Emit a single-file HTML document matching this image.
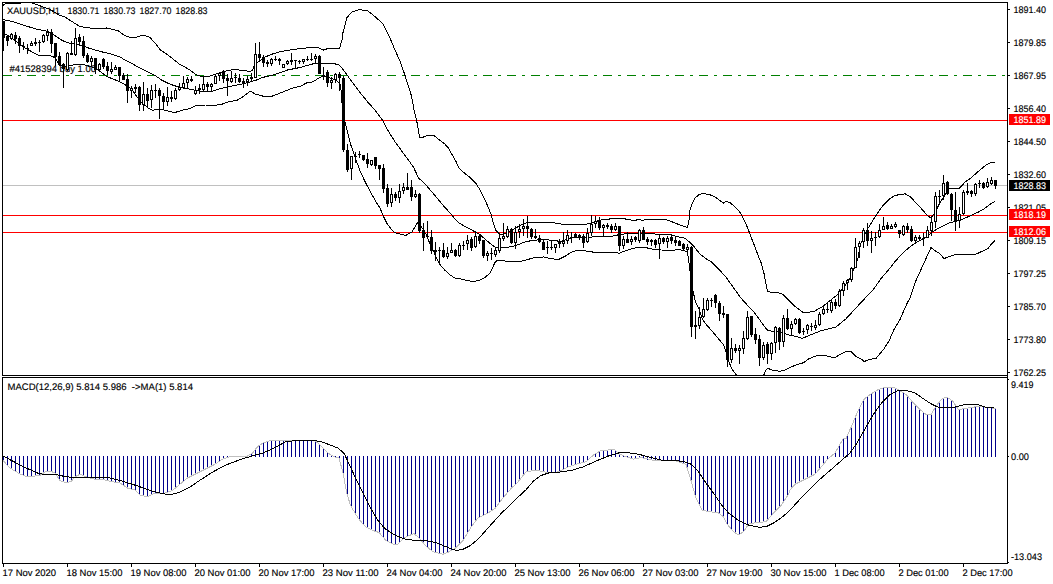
<!DOCTYPE html><html><head><meta charset="utf-8"><title>XAUUSD,H1</title><style>html,body{margin:0;padding:0;background:#fff;overflow:hidden}svg text{text-rendering:geometricPrecision}</style></head><body><svg width="1053" height="584" viewBox="0 0 1053 584" font-family="Liberation Sans, sans-serif" shape-rendering="crispEdges" style="display:block">
<rect width="1053" height="584" fill="#fff"/>
<defs><clipPath id="cm"><rect x="3" y="3" width="1004" height="372"/></clipPath><clipPath id="cs"><rect x="3" y="378" width="1004" height="185"/></clipPath></defs>
<g clip-path="url(#cm)">
<rect x="3" y="185" width="1004" height="1" fill="#c0c0c0"/>
<rect x="3" y="75" width="9" height="1" fill="#008000"/>
<rect x="18" y="75" width="3" height="1" fill="#008000"/>
<rect x="27" y="75" width="9" height="1" fill="#008000"/>
<rect x="42" y="75" width="3" height="1" fill="#008000"/>
<rect x="51" y="75" width="9" height="1" fill="#008000"/>
<rect x="66" y="75" width="3" height="1" fill="#008000"/>
<rect x="75" y="75" width="9" height="1" fill="#008000"/>
<rect x="90" y="75" width="3" height="1" fill="#008000"/>
<rect x="99" y="75" width="9" height="1" fill="#008000"/>
<rect x="114" y="75" width="3" height="1" fill="#008000"/>
<rect x="123" y="75" width="9" height="1" fill="#008000"/>
<rect x="138" y="75" width="3" height="1" fill="#008000"/>
<rect x="147" y="75" width="9" height="1" fill="#008000"/>
<rect x="162" y="75" width="3" height="1" fill="#008000"/>
<rect x="171" y="75" width="9" height="1" fill="#008000"/>
<rect x="186" y="75" width="3" height="1" fill="#008000"/>
<rect x="195" y="75" width="9" height="1" fill="#008000"/>
<rect x="210" y="75" width="3" height="1" fill="#008000"/>
<rect x="219" y="75" width="9" height="1" fill="#008000"/>
<rect x="234" y="75" width="3" height="1" fill="#008000"/>
<rect x="243" y="75" width="9" height="1" fill="#008000"/>
<rect x="258" y="75" width="3" height="1" fill="#008000"/>
<rect x="267" y="75" width="9" height="1" fill="#008000"/>
<rect x="282" y="75" width="3" height="1" fill="#008000"/>
<rect x="291" y="75" width="9" height="1" fill="#008000"/>
<rect x="306" y="75" width="3" height="1" fill="#008000"/>
<rect x="315" y="75" width="9" height="1" fill="#008000"/>
<rect x="330" y="75" width="3" height="1" fill="#008000"/>
<rect x="339" y="75" width="9" height="1" fill="#008000"/>
<rect x="354" y="75" width="3" height="1" fill="#008000"/>
<rect x="363" y="75" width="9" height="1" fill="#008000"/>
<rect x="378" y="75" width="3" height="1" fill="#008000"/>
<rect x="387" y="75" width="9" height="1" fill="#008000"/>
<rect x="402" y="75" width="3" height="1" fill="#008000"/>
<rect x="411" y="75" width="9" height="1" fill="#008000"/>
<rect x="426" y="75" width="3" height="1" fill="#008000"/>
<rect x="435" y="75" width="9" height="1" fill="#008000"/>
<rect x="450" y="75" width="3" height="1" fill="#008000"/>
<rect x="459" y="75" width="9" height="1" fill="#008000"/>
<rect x="474" y="75" width="3" height="1" fill="#008000"/>
<rect x="483" y="75" width="9" height="1" fill="#008000"/>
<rect x="498" y="75" width="3" height="1" fill="#008000"/>
<rect x="507" y="75" width="9" height="1" fill="#008000"/>
<rect x="522" y="75" width="3" height="1" fill="#008000"/>
<rect x="531" y="75" width="9" height="1" fill="#008000"/>
<rect x="546" y="75" width="3" height="1" fill="#008000"/>
<rect x="555" y="75" width="9" height="1" fill="#008000"/>
<rect x="570" y="75" width="3" height="1" fill="#008000"/>
<rect x="579" y="75" width="9" height="1" fill="#008000"/>
<rect x="594" y="75" width="3" height="1" fill="#008000"/>
<rect x="603" y="75" width="9" height="1" fill="#008000"/>
<rect x="618" y="75" width="3" height="1" fill="#008000"/>
<rect x="627" y="75" width="9" height="1" fill="#008000"/>
<rect x="642" y="75" width="3" height="1" fill="#008000"/>
<rect x="651" y="75" width="9" height="1" fill="#008000"/>
<rect x="666" y="75" width="3" height="1" fill="#008000"/>
<rect x="675" y="75" width="9" height="1" fill="#008000"/>
<rect x="690" y="75" width="3" height="1" fill="#008000"/>
<rect x="699" y="75" width="9" height="1" fill="#008000"/>
<rect x="714" y="75" width="3" height="1" fill="#008000"/>
<rect x="723" y="75" width="9" height="1" fill="#008000"/>
<rect x="738" y="75" width="3" height="1" fill="#008000"/>
<rect x="747" y="75" width="9" height="1" fill="#008000"/>
<rect x="762" y="75" width="3" height="1" fill="#008000"/>
<rect x="771" y="75" width="9" height="1" fill="#008000"/>
<rect x="786" y="75" width="3" height="1" fill="#008000"/>
<rect x="795" y="75" width="9" height="1" fill="#008000"/>
<rect x="810" y="75" width="3" height="1" fill="#008000"/>
<rect x="819" y="75" width="9" height="1" fill="#008000"/>
<rect x="834" y="75" width="3" height="1" fill="#008000"/>
<rect x="843" y="75" width="9" height="1" fill="#008000"/>
<rect x="858" y="75" width="3" height="1" fill="#008000"/>
<rect x="867" y="75" width="9" height="1" fill="#008000"/>
<rect x="882" y="75" width="3" height="1" fill="#008000"/>
<rect x="891" y="75" width="9" height="1" fill="#008000"/>
<rect x="906" y="75" width="3" height="1" fill="#008000"/>
<rect x="915" y="75" width="9" height="1" fill="#008000"/>
<rect x="930" y="75" width="3" height="1" fill="#008000"/>
<rect x="939" y="75" width="9" height="1" fill="#008000"/>
<rect x="954" y="75" width="3" height="1" fill="#008000"/>
<rect x="963" y="75" width="9" height="1" fill="#008000"/>
<rect x="978" y="75" width="3" height="1" fill="#008000"/>
<rect x="987" y="75" width="9" height="1" fill="#008000"/>
<rect x="1002" y="75" width="3" height="1" fill="#008000"/>
<rect x="3" y="120" width="1004" height="1" fill="#ff0000"/>
<rect x="3" y="215" width="1004" height="1" fill="#ff0000"/>
<rect x="3" y="232" width="1004" height="1" fill="#ff0000"/>
<polyline points="2.5,6.5 4.0,4.5 6.0,3.5 8.0,3.5 20.0,3.5 22.0,2.5 31.0,2.5 33.0,3.5 36.0,4.2 40.0,5.8 50.0,9.5 59.0,15.0 65.0,17.0 72.7,22.0 80.0,26.5 90.0,28.0 103.0,29.0 106.5,28.0 118.0,30.7 125.0,35.7 131.6,38.0 135.0,37.5 140.0,36.0 145.0,35.5 150.0,37.5 155.0,43.0 160.4,50.0 168.0,55.0 179.0,63.8 189.0,69.4 195.5,74.4 199.0,75.7 204.0,77.0 209.0,76.3 216.8,73.8 224.3,71.3 234.3,69.4 241.8,70.3 250.6,71.6 253.0,69.4 255.0,63.8 257.0,63.0 260.0,60.6 265.0,57.0 272.5,54.0 281.0,51.5 294.0,49.4 306.0,48.0 314.0,47.0 317.5,47.5 323.5,50.0 326.5,49.0 333.8,48.5 339.5,49.0 340.7,43.8 342.0,40.0 343.0,32.5 347.0,17.5 352.0,12.0 359.0,9.5 368.0,11.0 375.5,17.0 383.0,24.0 390.0,38.0 395.0,50.0 400.0,61.0 404.0,72.5 407.8,84.0 411.6,96.4 414.0,110.0 416.6,120.0 418.5,131.3 419.5,137.0 423.5,137.0 427.3,135.4 433.5,135.4 436.0,137.0 439.8,140.3 444.8,144.0 448.6,148.2 452.3,155.0 456.0,161.4 458.7,167.5 463.7,172.5 470.0,177.5 476.3,183.8 480.0,190.0 483.8,197.6 487.6,205.8 491.3,215.0 493.5,223.8 496.0,230.7 498.5,233.2 499.7,234.4 503.5,234.0 512.3,230.0 519.8,225.7 524.8,223.2 529.8,222.2 534.9,222.9 539.9,222.5 543.6,222.3 552.3,222.6 561.0,224.0 573.6,224.4 586.0,224.4 590.0,223.2 601.0,220.0 607.5,219.4 613.7,218.2 623.8,218.6 628.8,219.8 635.0,220.4 638.8,219.4 642.6,220.3 646.3,219.4 655.0,219.0 660.0,219.5 666.3,219.8 672.5,222.0 678.8,224.5 685.0,226.7 687.3,227.6 688.8,222.6 690.0,210.0 692.0,203.8 695.0,198.0 698.9,194.8 703.2,193.4 710.0,194.8 715.0,196.9 720.0,200.7 723.3,203.2 726.4,201.3 730.2,202.9 735.2,207.0 740.2,212.6 744.0,220.0 747.8,228.2 751.5,238.3 755.3,247.7 757.9,255.0 761.0,262.5 764.1,273.8 766.0,283.8 767.5,291.4 771.0,292.4 777.3,292.4 782.3,294.0 788.6,300.0 794.9,306.4 803.5,312.6 808.5,312.3 814.8,311.0 821.0,307.5 823.6,305.7 838.6,293.8 843.0,288.0 847.0,283.0 851.0,276.0 855.0,266.0 858.0,258.0 860.0,246.0 863.0,238.0 866.0,232.0 868.0,228.3 871.2,223.3 875.0,217.0 882.5,206.0 890.0,198.5 895.0,195.5 900.0,194.5 905.0,193.8 910.0,196.4 916.3,203.2 922.6,210.0 927.0,215.2 930.7,218.0 934.0,214.0 937.6,207.4 940.0,202.6 943.2,197.6 949.5,188.6 959.0,188.6 965.2,182.0 971.5,177.5 977.7,172.0 985.2,165.6 990.3,163.0 995.0,162.5" fill="none" stroke="#000" stroke-width="1" />
<polyline points="2.5,19.4 12.5,21.5 25.0,25.7 37.6,29.4 47.6,31.3 54.0,35.0 62.7,40.7 71.5,43.8 79.0,44.5 87.8,47.8 100.0,51.4 112.8,54.5 120.0,57.0 125.0,60.0 131.6,63.3 136.5,66.3 149.0,72.6 155.3,75.7 161.6,80.0 169.0,83.8 176.6,86.4 184.0,88.2 191.7,89.5 199.0,91.0 211.8,91.4 219.3,88.9 226.8,87.0 236.8,85.0 244.3,83.6 252.0,81.3 256.5,80.0 262.5,77.5 275.0,74.5 287.5,70.0 300.0,67.5 312.5,64.0 316.0,63.8 320.6,63.0 333.8,63.5 338.8,65.0 342.5,68.8 347.5,75.6 352.5,82.5 360.0,92.5 367.7,102.0 375.0,110.0 382.0,119.4 388.4,131.3 394.7,141.3 401.0,150.0 407.2,158.3 413.6,167.5 418.6,178.0 426.0,185.0 432.4,192.6 438.7,200.0 445.0,207.6 451.2,214.0 454.3,218.3 458.7,222.7 463.7,225.8 468.4,228.2 474.7,231.6 479.7,234.4 484.7,238.8 489.7,243.2 494.7,247.0 499.7,247.6 507.3,247.4 512.3,246.4 518.5,244.5 524.8,242.0 531.0,240.7 537.4,240.0 543.6,239.8 548.5,240.0 561.0,241.4 568.6,238.9 573.6,237.0 583.6,237.0 592.4,237.0 596.0,236.4 611.2,236.4 617.5,235.0 623.8,234.0 636.3,233.6 648.8,233.6 655.0,234.0 660.0,234.5 670.0,234.5 678.8,237.0 685.0,238.3 688.8,241.4 693.8,246.4 700.0,254.0 706.4,259.0 710.9,261.3 718.4,268.8 725.9,277.0 733.4,287.6 741.0,298.2 747.2,305.0 753.5,311.3 759.8,320.0 764.8,327.0 767.3,330.0 772.3,331.3 777.3,331.6 782.3,332.6 787.3,334.5 792.3,335.7 796.0,336.4 802.3,338.3 808.5,335.8 821.0,330.7 836.0,327.0 846.0,318.8 858.7,305.0 866.2,297.0 873.0,290.0 881.2,278.4 888.8,269.6 895.0,261.5 902.6,253.4 908.8,247.7 915.0,243.3 921.4,239.6 927.6,236.0 932.0,232.0 937.6,228.7 943.9,225.4 950.0,222.7 955.0,221.4 960.0,220.4 965.2,218.0 971.5,215.2 977.7,212.4 984.0,209.0 987.8,206.0 991.5,203.2 995.0,201.5" fill="none" stroke="#000" stroke-width="1" />
<polyline points="2.5,31.0 5.0,33.8 16.0,41.0 25.0,48.0 37.6,55.0 50.0,55.7 55.0,57.6 59.0,64.0 62.7,66.4 70.0,65.8 77.7,64.0 85.0,65.0 94.0,67.6 100.0,71.4 106.5,76.4 119.0,81.4 125.0,84.6 131.6,89.0 136.5,96.4 142.0,103.0 147.8,107.7 152.8,110.4 157.8,109.0 164.0,110.0 171.6,112.0 176.6,112.0 183.0,110.0 189.0,108.7 196.7,105.4 205.5,105.0 216.8,105.0 224.3,103.7 226.0,102.5 237.5,100.0 244.0,96.0 250.0,91.5 251.5,91.5 255.0,94.0 262.5,96.0 272.5,96.0 281.5,92.5 294.0,87.5 300.0,86.5 306.5,83.0 312.5,82.0 319.0,78.0 323.5,76.0 330.0,78.0 336.0,80.0 340.0,84.0 341.0,90.0 341.5,99.0 343.0,110.0 345.0,122.5 348.3,135.0 350.8,145.0 354.0,154.0 357.0,162.6 360.8,172.7 365.2,182.0 370.0,191.0 376.0,202.0 379.8,207.6 383.5,216.4 387.3,224.0 391.0,229.0 394.8,232.7 398.0,233.5 405.5,235.5 412.0,232.0 417.6,222.5 419.0,222.0 421.0,226.0 426.4,235.0 428.3,240.0 432.0,247.6 435.8,256.4 439.6,264.0 444.6,270.0 449.6,274.5 455.2,278.3 462.0,279.2 468.4,280.8 473.4,281.5 479.7,280.2 484.7,277.7 489.7,273.3 492.9,267.7 494.7,262.6 497.2,260.4 503.5,260.4 508.5,262.0 514.8,261.6 519.8,261.6 526.0,260.0 531.0,258.6 534.9,257.4 543.6,257.0 546.0,257.7 551.0,258.7 558.6,259.5 564.8,256.4 572.4,251.6 578.6,250.0 586.0,251.0 595.0,252.4 606.2,252.4 616.2,252.6 619.4,253.3 623.8,251.4 631.3,249.0 637.5,247.4 645.0,247.4 653.8,249.5 661.4,250.0 671.3,250.4 678.8,249.5 687.0,251.4 688.2,256.4 689.0,262.5 690.5,275.0 693.3,292.6 695.8,303.0 699.0,309.0 702.0,318.3 705.2,323.3 709.6,328.3 717.0,337.0 723.4,344.5 725.3,350.0 727.5,357.0 729.7,364.0 732.8,370.2 736.0,374.6 740.0,379.0 750.0,383.0 760.0,380.0 764.0,374.6 766.0,370.2 767.9,368.3 772.3,370.2 779.8,371.2 784.8,370.2 791.0,367.0 797.4,364.5 803.5,362.7 808.5,359.0 817.3,355.4 824.8,355.4 831.0,357.0 836.0,357.0 839.9,354.6 846.0,351.4 851.2,351.4 855.0,355.8 861.2,359.0 864.3,361.5 868.7,359.6 876.2,358.3 883.8,349.0 888.8,341.4 893.8,330.0 900.0,319.5 906.3,305.0 910.0,297.7 915.0,282.7 921.3,268.9 927.0,256.3 931.0,247.6 935.0,250.7 940.0,253.8 943.9,258.6 950.0,256.3 955.0,254.5 965.2,254.5 975.2,254.5 981.5,251.6 987.8,248.8 991.5,243.8 995.0,240.5" fill="none" stroke="#000" stroke-width="1" />
<rect x="3" y="21" width="1" height="30" fill="#000"/>
<rect x="2" y="21" width="3" height="17" fill="#000"/>
<rect x="7" y="36" width="1" height="10" fill="#000"/>
<rect x="6" y="36" width="3" height="5" fill="#000"/>
<rect x="11" y="33" width="1" height="7" fill="#000"/>
<rect x="10" y="34" width="3" height="5" fill="#000"/>
<rect x="11" y="35" width="1" height="3" fill="#fff"/>
<rect x="15" y="32" width="1" height="12" fill="#000"/>
<rect x="14" y="35" width="3" height="4" fill="#000"/>
<rect x="19" y="36" width="1" height="17" fill="#000"/>
<rect x="18" y="38" width="3" height="8" fill="#000"/>
<rect x="23" y="42" width="1" height="8" fill="#000"/>
<rect x="22" y="46" width="3" height="1" fill="#000"/>
<rect x="27" y="44" width="1" height="10" fill="#000"/>
<rect x="26" y="48" width="3" height="1" fill="#000"/>
<rect x="31" y="41" width="1" height="5" fill="#000"/>
<rect x="30" y="43" width="3" height="3" fill="#000"/>
<rect x="31" y="44" width="1" height="1" fill="#fff"/>
<rect x="35" y="38" width="1" height="8" fill="#000"/>
<rect x="34" y="42" width="3" height="2" fill="#000"/>
<rect x="39" y="40" width="1" height="12" fill="#000"/>
<rect x="38" y="42" width="3" height="1" fill="#000"/>
<rect x="43" y="34" width="1" height="9" fill="#000"/>
<rect x="42" y="35" width="3" height="7" fill="#000"/>
<rect x="43" y="36" width="1" height="5" fill="#fff"/>
<rect x="47" y="29" width="1" height="12" fill="#000"/>
<rect x="46" y="32" width="3" height="4" fill="#000"/>
<rect x="47" y="33" width="1" height="2" fill="#fff"/>
<rect x="51" y="29" width="1" height="24" fill="#000"/>
<rect x="50" y="32" width="3" height="12" fill="#000"/>
<rect x="55" y="43" width="1" height="23" fill="#000"/>
<rect x="54" y="43" width="3" height="14" fill="#000"/>
<rect x="59" y="52" width="1" height="14" fill="#000"/>
<rect x="58" y="56" width="3" height="9" fill="#000"/>
<rect x="63" y="63" width="1" height="25" fill="#000"/>
<rect x="62" y="64" width="3" height="5" fill="#000"/>
<rect x="67" y="52" width="1" height="19" fill="#000"/>
<rect x="66" y="53" width="3" height="17" fill="#000"/>
<rect x="67" y="54" width="1" height="15" fill="#fff"/>
<rect x="71" y="41" width="1" height="14" fill="#000"/>
<rect x="70" y="53" width="3" height="2" fill="#000"/>
<rect x="75" y="28" width="1" height="28" fill="#000"/>
<rect x="74" y="38" width="3" height="17" fill="#000"/>
<rect x="75" y="39" width="1" height="15" fill="#fff"/>
<rect x="79" y="34" width="1" height="12" fill="#000"/>
<rect x="78" y="37" width="3" height="5" fill="#000"/>
<rect x="83" y="36" width="1" height="22" fill="#000"/>
<rect x="82" y="41" width="3" height="15" fill="#000"/>
<rect x="87" y="53" width="1" height="10" fill="#000"/>
<rect x="86" y="55" width="3" height="7" fill="#000"/>
<rect x="91" y="56" width="1" height="10" fill="#000"/>
<rect x="90" y="58" width="3" height="4" fill="#000"/>
<rect x="91" y="59" width="1" height="2" fill="#fff"/>
<rect x="95" y="58" width="1" height="16" fill="#000"/>
<rect x="94" y="58" width="3" height="12" fill="#000"/>
<rect x="99" y="63" width="1" height="9" fill="#000"/>
<rect x="98" y="64" width="3" height="6" fill="#000"/>
<rect x="99" y="65" width="1" height="4" fill="#fff"/>
<rect x="103" y="58" width="1" height="11" fill="#000"/>
<rect x="102" y="59" width="3" height="8" fill="#000"/>
<rect x="107" y="62" width="1" height="13" fill="#000"/>
<rect x="106" y="66" width="3" height="5" fill="#000"/>
<rect x="111" y="62" width="1" height="12" fill="#000"/>
<rect x="110" y="69" width="3" height="3" fill="#000"/>
<rect x="111" y="70" width="1" height="1" fill="#fff"/>
<rect x="115" y="65" width="1" height="5" fill="#000"/>
<rect x="114" y="67" width="3" height="3" fill="#000"/>
<rect x="115" y="68" width="1" height="1" fill="#fff"/>
<rect x="119" y="67" width="1" height="14" fill="#000"/>
<rect x="118" y="67" width="3" height="9" fill="#000"/>
<rect x="123" y="73" width="1" height="7" fill="#000"/>
<rect x="122" y="75" width="3" height="5" fill="#000"/>
<rect x="127" y="74" width="1" height="29" fill="#000"/>
<rect x="126" y="79" width="3" height="12" fill="#000"/>
<rect x="131" y="86" width="1" height="12" fill="#000"/>
<rect x="130" y="88" width="3" height="3" fill="#000"/>
<rect x="131" y="89" width="1" height="1" fill="#fff"/>
<rect x="135" y="84" width="1" height="9" fill="#000"/>
<rect x="134" y="87" width="3" height="2" fill="#000"/>
<rect x="139" y="86" width="1" height="25" fill="#000"/>
<rect x="138" y="87" width="3" height="18" fill="#000"/>
<rect x="143" y="82" width="1" height="29" fill="#000"/>
<rect x="142" y="94" width="3" height="11" fill="#000"/>
<rect x="143" y="95" width="1" height="9" fill="#fff"/>
<rect x="147" y="88" width="1" height="20" fill="#000"/>
<rect x="146" y="94" width="3" height="7" fill="#000"/>
<rect x="151" y="85" width="1" height="23" fill="#000"/>
<rect x="150" y="90" width="3" height="10" fill="#000"/>
<rect x="151" y="91" width="1" height="8" fill="#fff"/>
<rect x="155" y="84" width="1" height="14" fill="#000"/>
<rect x="154" y="90" width="3" height="1" fill="#000"/>
<rect x="159" y="88" width="1" height="31" fill="#000"/>
<rect x="158" y="90" width="3" height="6" fill="#000"/>
<rect x="163" y="93" width="1" height="17" fill="#000"/>
<rect x="162" y="96" width="3" height="6" fill="#000"/>
<rect x="167" y="87" width="1" height="19" fill="#000"/>
<rect x="166" y="97" width="3" height="5" fill="#000"/>
<rect x="167" y="98" width="1" height="3" fill="#fff"/>
<rect x="171" y="91" width="1" height="11" fill="#000"/>
<rect x="170" y="97" width="3" height="2" fill="#000"/>
<rect x="175" y="88" width="1" height="12" fill="#000"/>
<rect x="174" y="90" width="3" height="9" fill="#000"/>
<rect x="175" y="91" width="1" height="7" fill="#fff"/>
<rect x="179" y="83" width="1" height="8" fill="#000"/>
<rect x="178" y="87" width="3" height="3" fill="#000"/>
<rect x="179" y="88" width="1" height="1" fill="#fff"/>
<rect x="183" y="76" width="1" height="12" fill="#000"/>
<rect x="182" y="83" width="3" height="5" fill="#000"/>
<rect x="183" y="84" width="1" height="3" fill="#fff"/>
<rect x="187" y="77" width="1" height="11" fill="#000"/>
<rect x="186" y="79" width="3" height="4" fill="#000"/>
<rect x="187" y="80" width="1" height="2" fill="#fff"/>
<rect x="191" y="76" width="1" height="6" fill="#000"/>
<rect x="190" y="79" width="3" height="2" fill="#000"/>
<rect x="195" y="86" width="1" height="9" fill="#000"/>
<rect x="194" y="90" width="3" height="4" fill="#000"/>
<rect x="195" y="91" width="1" height="2" fill="#fff"/>
<rect x="199" y="84" width="1" height="10" fill="#000"/>
<rect x="198" y="88" width="3" height="2" fill="#000"/>
<rect x="203" y="76" width="1" height="15" fill="#000"/>
<rect x="202" y="84" width="3" height="6" fill="#000"/>
<rect x="203" y="85" width="1" height="4" fill="#fff"/>
<rect x="207" y="82" width="1" height="10" fill="#000"/>
<rect x="206" y="84" width="3" height="3" fill="#000"/>
<rect x="211" y="83" width="1" height="8" fill="#000"/>
<rect x="210" y="84" width="3" height="3" fill="#000"/>
<rect x="211" y="85" width="1" height="1" fill="#fff"/>
<rect x="215" y="75" width="1" height="9" fill="#000"/>
<rect x="214" y="76" width="3" height="8" fill="#000"/>
<rect x="215" y="77" width="1" height="6" fill="#fff"/>
<rect x="219" y="73" width="1" height="8" fill="#000"/>
<rect x="218" y="73" width="3" height="3" fill="#000"/>
<rect x="219" y="74" width="1" height="1" fill="#fff"/>
<rect x="223" y="70" width="1" height="13" fill="#000"/>
<rect x="222" y="72" width="3" height="7" fill="#000"/>
<rect x="227" y="74" width="1" height="22" fill="#000"/>
<rect x="226" y="78" width="3" height="3" fill="#000"/>
<rect x="231" y="71" width="1" height="12" fill="#000"/>
<rect x="230" y="78" width="3" height="4" fill="#000"/>
<rect x="231" y="79" width="1" height="2" fill="#fff"/>
<rect x="235" y="73" width="1" height="10" fill="#000"/>
<rect x="234" y="77" width="3" height="1" fill="#000"/>
<rect x="239" y="74" width="1" height="9" fill="#000"/>
<rect x="238" y="78" width="3" height="4" fill="#000"/>
<rect x="243" y="78" width="1" height="10" fill="#000"/>
<rect x="242" y="81" width="3" height="2" fill="#000"/>
<rect x="247" y="76" width="1" height="10" fill="#000"/>
<rect x="246" y="79" width="3" height="3" fill="#000"/>
<rect x="247" y="80" width="1" height="1" fill="#fff"/>
<rect x="251" y="73" width="1" height="8" fill="#000"/>
<rect x="250" y="77" width="3" height="2" fill="#000"/>
<rect x="255" y="43" width="1" height="35" fill="#000"/>
<rect x="254" y="54" width="3" height="24" fill="#000"/>
<rect x="255" y="55" width="1" height="22" fill="#fff"/>
<rect x="259" y="42" width="1" height="18" fill="#000"/>
<rect x="258" y="54" width="3" height="4" fill="#000"/>
<rect x="263" y="55" width="1" height="12" fill="#000"/>
<rect x="262" y="57" width="3" height="6" fill="#000"/>
<rect x="267" y="60" width="1" height="7" fill="#000"/>
<rect x="266" y="62" width="3" height="2" fill="#000"/>
<rect x="271" y="58" width="1" height="8" fill="#000"/>
<rect x="270" y="59" width="3" height="5" fill="#000"/>
<rect x="271" y="60" width="1" height="3" fill="#fff"/>
<rect x="275" y="56" width="1" height="5" fill="#000"/>
<rect x="274" y="59" width="3" height="1" fill="#000"/>
<rect x="279" y="58" width="1" height="7" fill="#000"/>
<rect x="278" y="59" width="3" height="2" fill="#000"/>
<rect x="283" y="64" width="1" height="4" fill="#000"/>
<rect x="282" y="64" width="3" height="4" fill="#000"/>
<rect x="283" y="65" width="1" height="2" fill="#fff"/>
<rect x="287" y="60" width="1" height="5" fill="#000"/>
<rect x="286" y="61" width="3" height="3" fill="#000"/>
<rect x="287" y="62" width="1" height="1" fill="#fff"/>
<rect x="291" y="53" width="1" height="12" fill="#000"/>
<rect x="290" y="60" width="3" height="2" fill="#000"/>
<rect x="295" y="60" width="1" height="8" fill="#000"/>
<rect x="294" y="60" width="3" height="1" fill="#000"/>
<rect x="299" y="60" width="1" height="4" fill="#000"/>
<rect x="298" y="61" width="3" height="1" fill="#000"/>
<rect x="303" y="59" width="1" height="5" fill="#000"/>
<rect x="302" y="59" width="3" height="3" fill="#000"/>
<rect x="303" y="60" width="1" height="1" fill="#fff"/>
<rect x="307" y="56" width="1" height="5" fill="#000"/>
<rect x="306" y="59" width="3" height="1" fill="#000"/>
<rect x="311" y="53" width="1" height="8" fill="#000"/>
<rect x="310" y="59" width="3" height="1" fill="#000"/>
<rect x="315" y="54" width="1" height="10" fill="#000"/>
<rect x="314" y="56" width="3" height="3" fill="#000"/>
<rect x="315" y="57" width="1" height="1" fill="#fff"/>
<rect x="319" y="55" width="1" height="19" fill="#000"/>
<rect x="318" y="56" width="3" height="18" fill="#000"/>
<rect x="323" y="67" width="1" height="13" fill="#000"/>
<rect x="322" y="75" width="3" height="1" fill="#000"/>
<rect x="327" y="70" width="1" height="17" fill="#000"/>
<rect x="326" y="72" width="3" height="11" fill="#000"/>
<rect x="331" y="77" width="1" height="12" fill="#000"/>
<rect x="330" y="80" width="3" height="3" fill="#000"/>
<rect x="331" y="81" width="1" height="1" fill="#fff"/>
<rect x="335" y="73" width="1" height="10" fill="#000"/>
<rect x="334" y="74" width="3" height="6" fill="#000"/>
<rect x="335" y="75" width="1" height="4" fill="#fff"/>
<rect x="339" y="72" width="1" height="19" fill="#000"/>
<rect x="338" y="74" width="3" height="4" fill="#000"/>
<rect x="343" y="76" width="1" height="76" fill="#000"/>
<rect x="342" y="78" width="3" height="72" fill="#000"/>
<rect x="347" y="144" width="1" height="28" fill="#000"/>
<rect x="346" y="150" width="3" height="20" fill="#000"/>
<rect x="351" y="156" width="1" height="24" fill="#000"/>
<rect x="350" y="156" width="3" height="13" fill="#000"/>
<rect x="351" y="157" width="1" height="11" fill="#fff"/>
<rect x="355" y="152" width="1" height="11" fill="#000"/>
<rect x="354" y="156" width="3" height="1" fill="#000"/>
<rect x="359" y="151" width="1" height="7" fill="#000"/>
<rect x="358" y="154" width="3" height="1" fill="#000"/>
<rect x="363" y="155" width="1" height="6" fill="#000"/>
<rect x="362" y="155" width="3" height="5" fill="#000"/>
<rect x="367" y="153" width="1" height="15" fill="#000"/>
<rect x="366" y="159" width="3" height="5" fill="#000"/>
<rect x="371" y="160" width="1" height="6" fill="#000"/>
<rect x="370" y="160" width="3" height="5" fill="#000"/>
<rect x="371" y="161" width="1" height="3" fill="#fff"/>
<rect x="375" y="157" width="1" height="12" fill="#000"/>
<rect x="374" y="157" width="3" height="9" fill="#000"/>
<rect x="379" y="165" width="1" height="15" fill="#000"/>
<rect x="378" y="165" width="3" height="4" fill="#000"/>
<rect x="383" y="164" width="1" height="29" fill="#000"/>
<rect x="382" y="168" width="3" height="21" fill="#000"/>
<rect x="387" y="184" width="1" height="23" fill="#000"/>
<rect x="386" y="188" width="3" height="16" fill="#000"/>
<rect x="391" y="188" width="1" height="19" fill="#000"/>
<rect x="390" y="194" width="3" height="9" fill="#000"/>
<rect x="391" y="195" width="1" height="7" fill="#fff"/>
<rect x="395" y="192" width="1" height="9" fill="#000"/>
<rect x="394" y="194" width="3" height="4" fill="#000"/>
<rect x="399" y="184" width="1" height="19" fill="#000"/>
<rect x="398" y="191" width="3" height="7" fill="#000"/>
<rect x="399" y="192" width="1" height="5" fill="#fff"/>
<rect x="403" y="183" width="1" height="11" fill="#000"/>
<rect x="402" y="187" width="3" height="4" fill="#000"/>
<rect x="403" y="188" width="1" height="2" fill="#fff"/>
<rect x="407" y="173" width="1" height="17" fill="#000"/>
<rect x="406" y="187" width="3" height="3" fill="#000"/>
<rect x="411" y="180" width="1" height="21" fill="#000"/>
<rect x="410" y="187" width="3" height="10" fill="#000"/>
<rect x="415" y="190" width="1" height="8" fill="#000"/>
<rect x="414" y="194" width="3" height="3" fill="#000"/>
<rect x="415" y="195" width="1" height="1" fill="#fff"/>
<rect x="419" y="193" width="1" height="40" fill="#000"/>
<rect x="418" y="194" width="3" height="37" fill="#000"/>
<rect x="423" y="223" width="1" height="28" fill="#000"/>
<rect x="422" y="230" width="3" height="8" fill="#000"/>
<rect x="427" y="221" width="1" height="17" fill="#000"/>
<rect x="426" y="236" width="3" height="1" fill="#000"/>
<rect x="431" y="230" width="1" height="24" fill="#000"/>
<rect x="430" y="237" width="3" height="14" fill="#000"/>
<rect x="435" y="242" width="1" height="19" fill="#000"/>
<rect x="434" y="250" width="3" height="2" fill="#000"/>
<rect x="439" y="247" width="1" height="18" fill="#000"/>
<rect x="438" y="250" width="3" height="1" fill="#000"/>
<rect x="443" y="243" width="1" height="15" fill="#000"/>
<rect x="442" y="250" width="3" height="7" fill="#000"/>
<rect x="447" y="247" width="1" height="12" fill="#000"/>
<rect x="446" y="253" width="3" height="4" fill="#000"/>
<rect x="447" y="254" width="1" height="2" fill="#fff"/>
<rect x="451" y="243" width="1" height="10" fill="#000"/>
<rect x="450" y="250" width="3" height="3" fill="#000"/>
<rect x="451" y="251" width="1" height="1" fill="#fff"/>
<rect x="455" y="249" width="1" height="8" fill="#000"/>
<rect x="454" y="250" width="3" height="6" fill="#000"/>
<rect x="459" y="243" width="1" height="14" fill="#000"/>
<rect x="458" y="245" width="3" height="11" fill="#000"/>
<rect x="459" y="246" width="1" height="9" fill="#fff"/>
<rect x="463" y="241" width="1" height="9" fill="#000"/>
<rect x="462" y="245" width="3" height="1" fill="#000"/>
<rect x="467" y="235" width="1" height="15" fill="#000"/>
<rect x="466" y="240" width="3" height="4" fill="#000"/>
<rect x="467" y="241" width="1" height="2" fill="#fff"/>
<rect x="471" y="237" width="1" height="14" fill="#000"/>
<rect x="470" y="239" width="3" height="9" fill="#000"/>
<rect x="475" y="233" width="1" height="15" fill="#000"/>
<rect x="474" y="236" width="3" height="11" fill="#000"/>
<rect x="475" y="237" width="1" height="9" fill="#fff"/>
<rect x="479" y="234" width="1" height="10" fill="#000"/>
<rect x="478" y="236" width="3" height="5" fill="#000"/>
<rect x="483" y="240" width="1" height="18" fill="#000"/>
<rect x="482" y="240" width="3" height="16" fill="#000"/>
<rect x="487" y="251" width="1" height="10" fill="#000"/>
<rect x="486" y="253" width="3" height="3" fill="#000"/>
<rect x="487" y="254" width="1" height="1" fill="#fff"/>
<rect x="491" y="248" width="1" height="12" fill="#000"/>
<rect x="490" y="253" width="3" height="1" fill="#000"/>
<rect x="495" y="248" width="1" height="9" fill="#000"/>
<rect x="494" y="250" width="3" height="5" fill="#000"/>
<rect x="495" y="251" width="1" height="3" fill="#fff"/>
<rect x="499" y="234" width="1" height="19" fill="#000"/>
<rect x="498" y="238" width="3" height="13" fill="#000"/>
<rect x="499" y="239" width="1" height="11" fill="#fff"/>
<rect x="503" y="223" width="1" height="18" fill="#000"/>
<rect x="502" y="236" width="3" height="3" fill="#000"/>
<rect x="503" y="237" width="1" height="1" fill="#fff"/>
<rect x="507" y="226" width="1" height="12" fill="#000"/>
<rect x="506" y="229" width="3" height="8" fill="#000"/>
<rect x="507" y="230" width="1" height="6" fill="#fff"/>
<rect x="511" y="228" width="1" height="16" fill="#000"/>
<rect x="510" y="229" width="3" height="14" fill="#000"/>
<rect x="515" y="226" width="1" height="23" fill="#000"/>
<rect x="514" y="232" width="3" height="11" fill="#000"/>
<rect x="515" y="233" width="1" height="9" fill="#fff"/>
<rect x="519" y="224" width="1" height="14" fill="#000"/>
<rect x="518" y="229" width="3" height="3" fill="#000"/>
<rect x="519" y="230" width="1" height="1" fill="#fff"/>
<rect x="523" y="219" width="1" height="17" fill="#000"/>
<rect x="522" y="226" width="3" height="3" fill="#000"/>
<rect x="523" y="227" width="1" height="1" fill="#fff"/>
<rect x="527" y="216" width="1" height="22" fill="#000"/>
<rect x="526" y="226" width="3" height="3" fill="#000"/>
<rect x="531" y="228" width="1" height="11" fill="#000"/>
<rect x="530" y="229" width="3" height="8" fill="#000"/>
<rect x="535" y="229" width="1" height="10" fill="#000"/>
<rect x="534" y="236" width="3" height="2" fill="#000"/>
<rect x="539" y="235" width="1" height="8" fill="#000"/>
<rect x="538" y="238" width="3" height="4" fill="#000"/>
<rect x="543" y="240" width="1" height="10" fill="#000"/>
<rect x="542" y="242" width="3" height="8" fill="#000"/>
<rect x="547" y="241" width="1" height="13" fill="#000"/>
<rect x="546" y="247" width="3" height="1" fill="#000"/>
<rect x="551" y="241" width="1" height="9" fill="#000"/>
<rect x="550" y="247" width="3" height="1" fill="#000"/>
<rect x="555" y="244" width="1" height="9" fill="#000"/>
<rect x="554" y="244" width="3" height="4" fill="#000"/>
<rect x="555" y="245" width="1" height="2" fill="#fff"/>
<rect x="559" y="239" width="1" height="9" fill="#000"/>
<rect x="558" y="241" width="3" height="3" fill="#000"/>
<rect x="563" y="232" width="1" height="15" fill="#000"/>
<rect x="562" y="241" width="3" height="3" fill="#000"/>
<rect x="563" y="242" width="1" height="1" fill="#fff"/>
<rect x="567" y="230" width="1" height="14" fill="#000"/>
<rect x="566" y="235" width="3" height="6" fill="#000"/>
<rect x="567" y="236" width="1" height="4" fill="#fff"/>
<rect x="571" y="232" width="1" height="11" fill="#000"/>
<rect x="570" y="237" width="3" height="1" fill="#000"/>
<rect x="575" y="233" width="1" height="5" fill="#000"/>
<rect x="574" y="234" width="3" height="3" fill="#000"/>
<rect x="579" y="234" width="1" height="6" fill="#000"/>
<rect x="578" y="235" width="3" height="2" fill="#000"/>
<rect x="583" y="234" width="1" height="14" fill="#000"/>
<rect x="582" y="236" width="3" height="7" fill="#000"/>
<rect x="587" y="228" width="1" height="15" fill="#000"/>
<rect x="586" y="233" width="3" height="9" fill="#000"/>
<rect x="587" y="234" width="1" height="7" fill="#fff"/>
<rect x="591" y="215" width="1" height="21" fill="#000"/>
<rect x="590" y="224" width="3" height="9" fill="#000"/>
<rect x="591" y="225" width="1" height="7" fill="#fff"/>
<rect x="595" y="216" width="1" height="12" fill="#000"/>
<rect x="594" y="221" width="3" height="3" fill="#000"/>
<rect x="595" y="222" width="1" height="1" fill="#fff"/>
<rect x="599" y="217" width="1" height="13" fill="#000"/>
<rect x="598" y="220" width="3" height="8" fill="#000"/>
<rect x="603" y="224" width="1" height="12" fill="#000"/>
<rect x="602" y="225" width="3" height="3" fill="#000"/>
<rect x="603" y="226" width="1" height="1" fill="#fff"/>
<rect x="607" y="223" width="1" height="6" fill="#000"/>
<rect x="606" y="225" width="3" height="2" fill="#000"/>
<rect x="611" y="224" width="1" height="9" fill="#000"/>
<rect x="610" y="226" width="3" height="4" fill="#000"/>
<rect x="615" y="223" width="1" height="8" fill="#000"/>
<rect x="614" y="226" width="3" height="4" fill="#000"/>
<rect x="615" y="227" width="1" height="2" fill="#fff"/>
<rect x="619" y="226" width="1" height="25" fill="#000"/>
<rect x="618" y="226" width="3" height="20" fill="#000"/>
<rect x="623" y="236" width="1" height="13" fill="#000"/>
<rect x="622" y="239" width="3" height="7" fill="#000"/>
<rect x="623" y="240" width="1" height="5" fill="#fff"/>
<rect x="627" y="232" width="1" height="11" fill="#000"/>
<rect x="626" y="239" width="3" height="4" fill="#000"/>
<rect x="631" y="236" width="1" height="9" fill="#000"/>
<rect x="630" y="239" width="3" height="3" fill="#000"/>
<rect x="631" y="240" width="1" height="1" fill="#fff"/>
<rect x="635" y="236" width="1" height="6" fill="#000"/>
<rect x="634" y="237" width="3" height="3" fill="#000"/>
<rect x="639" y="229" width="1" height="14" fill="#000"/>
<rect x="638" y="230" width="3" height="11" fill="#000"/>
<rect x="639" y="231" width="1" height="9" fill="#fff"/>
<rect x="643" y="227" width="1" height="13" fill="#000"/>
<rect x="642" y="230" width="3" height="10" fill="#000"/>
<rect x="647" y="237" width="1" height="8" fill="#000"/>
<rect x="646" y="239" width="3" height="3" fill="#000"/>
<rect x="651" y="239" width="1" height="7" fill="#000"/>
<rect x="650" y="240" width="3" height="2" fill="#000"/>
<rect x="655" y="239" width="1" height="9" fill="#000"/>
<rect x="654" y="240" width="3" height="5" fill="#000"/>
<rect x="659" y="235" width="1" height="24" fill="#000"/>
<rect x="658" y="238" width="3" height="6" fill="#000"/>
<rect x="659" y="239" width="1" height="4" fill="#fff"/>
<rect x="663" y="237" width="1" height="7" fill="#000"/>
<rect x="662" y="238" width="3" height="4" fill="#000"/>
<rect x="667" y="236" width="1" height="12" fill="#000"/>
<rect x="666" y="238" width="3" height="4" fill="#000"/>
<rect x="667" y="239" width="1" height="2" fill="#fff"/>
<rect x="671" y="234" width="1" height="10" fill="#000"/>
<rect x="670" y="237" width="3" height="4" fill="#000"/>
<rect x="675" y="236" width="1" height="10" fill="#000"/>
<rect x="674" y="240" width="3" height="3" fill="#000"/>
<rect x="679" y="240" width="1" height="6" fill="#000"/>
<rect x="678" y="241" width="3" height="5" fill="#000"/>
<rect x="683" y="243" width="1" height="8" fill="#000"/>
<rect x="682" y="244" width="3" height="5" fill="#000"/>
<rect x="687" y="244" width="1" height="7" fill="#000"/>
<rect x="686" y="247" width="3" height="3" fill="#000"/>
<rect x="687" y="248" width="1" height="1" fill="#fff"/>
<rect x="691" y="246" width="1" height="91" fill="#000"/>
<rect x="690" y="247" width="3" height="80" fill="#000"/>
<rect x="695" y="311" width="1" height="28" fill="#000"/>
<rect x="694" y="325" width="3" height="2" fill="#000"/>
<rect x="699" y="307" width="1" height="22" fill="#000"/>
<rect x="698" y="317" width="3" height="9" fill="#000"/>
<rect x="699" y="318" width="1" height="7" fill="#fff"/>
<rect x="703" y="298" width="1" height="20" fill="#000"/>
<rect x="702" y="309" width="3" height="8" fill="#000"/>
<rect x="703" y="310" width="1" height="6" fill="#fff"/>
<rect x="707" y="298" width="1" height="13" fill="#000"/>
<rect x="706" y="300" width="3" height="10" fill="#000"/>
<rect x="707" y="301" width="1" height="8" fill="#fff"/>
<rect x="711" y="298" width="1" height="9" fill="#000"/>
<rect x="710" y="300" width="3" height="1" fill="#000"/>
<rect x="715" y="294" width="1" height="14" fill="#000"/>
<rect x="714" y="295" width="3" height="8" fill="#000"/>
<rect x="719" y="301" width="1" height="20" fill="#000"/>
<rect x="718" y="303" width="3" height="11" fill="#000"/>
<rect x="723" y="306" width="1" height="12" fill="#000"/>
<rect x="722" y="313" width="3" height="2" fill="#000"/>
<rect x="727" y="314" width="1" height="53" fill="#000"/>
<rect x="726" y="314" width="3" height="46" fill="#000"/>
<rect x="731" y="338" width="1" height="25" fill="#000"/>
<rect x="730" y="348" width="3" height="12" fill="#000"/>
<rect x="731" y="349" width="1" height="10" fill="#fff"/>
<rect x="735" y="344" width="1" height="9" fill="#000"/>
<rect x="734" y="348" width="3" height="3" fill="#000"/>
<rect x="739" y="345" width="1" height="19" fill="#000"/>
<rect x="738" y="348" width="3" height="3" fill="#000"/>
<rect x="739" y="349" width="1" height="1" fill="#fff"/>
<rect x="743" y="331" width="1" height="23" fill="#000"/>
<rect x="742" y="338" width="3" height="11" fill="#000"/>
<rect x="743" y="339" width="1" height="9" fill="#fff"/>
<rect x="747" y="311" width="1" height="29" fill="#000"/>
<rect x="746" y="317" width="3" height="22" fill="#000"/>
<rect x="747" y="318" width="1" height="20" fill="#fff"/>
<rect x="751" y="316" width="1" height="21" fill="#000"/>
<rect x="750" y="316" width="3" height="19" fill="#000"/>
<rect x="755" y="328" width="1" height="16" fill="#000"/>
<rect x="754" y="334" width="3" height="6" fill="#000"/>
<rect x="759" y="335" width="1" height="31" fill="#000"/>
<rect x="758" y="339" width="3" height="19" fill="#000"/>
<rect x="763" y="342" width="1" height="18" fill="#000"/>
<rect x="762" y="345" width="3" height="13" fill="#000"/>
<rect x="763" y="346" width="1" height="11" fill="#fff"/>
<rect x="767" y="342" width="1" height="22" fill="#000"/>
<rect x="766" y="344" width="3" height="10" fill="#000"/>
<rect x="771" y="342" width="1" height="18" fill="#000"/>
<rect x="770" y="343" width="3" height="11" fill="#000"/>
<rect x="771" y="344" width="1" height="9" fill="#fff"/>
<rect x="775" y="326" width="1" height="27" fill="#000"/>
<rect x="774" y="327" width="3" height="16" fill="#000"/>
<rect x="775" y="328" width="1" height="14" fill="#fff"/>
<rect x="779" y="327" width="1" height="23" fill="#000"/>
<rect x="778" y="328" width="3" height="14" fill="#000"/>
<rect x="783" y="315" width="1" height="32" fill="#000"/>
<rect x="782" y="318" width="3" height="24" fill="#000"/>
<rect x="783" y="319" width="1" height="22" fill="#fff"/>
<rect x="787" y="309" width="1" height="21" fill="#000"/>
<rect x="786" y="318" width="3" height="11" fill="#000"/>
<rect x="791" y="321" width="1" height="14" fill="#000"/>
<rect x="790" y="324" width="3" height="5" fill="#000"/>
<rect x="791" y="325" width="1" height="3" fill="#fff"/>
<rect x="795" y="318" width="1" height="7" fill="#000"/>
<rect x="794" y="319" width="3" height="5" fill="#000"/>
<rect x="795" y="320" width="1" height="3" fill="#fff"/>
<rect x="799" y="318" width="1" height="16" fill="#000"/>
<rect x="798" y="319" width="3" height="14" fill="#000"/>
<rect x="803" y="328" width="1" height="7" fill="#000"/>
<rect x="802" y="331" width="3" height="1" fill="#000"/>
<rect x="807" y="324" width="1" height="10" fill="#000"/>
<rect x="806" y="325" width="3" height="5" fill="#000"/>
<rect x="807" y="326" width="1" height="3" fill="#fff"/>
<rect x="811" y="323" width="1" height="8" fill="#000"/>
<rect x="810" y="326" width="3" height="1" fill="#000"/>
<rect x="815" y="320" width="1" height="10" fill="#000"/>
<rect x="814" y="325" width="3" height="3" fill="#000"/>
<rect x="815" y="326" width="1" height="1" fill="#fff"/>
<rect x="819" y="312" width="1" height="14" fill="#000"/>
<rect x="818" y="314" width="3" height="11" fill="#000"/>
<rect x="819" y="315" width="1" height="9" fill="#fff"/>
<rect x="823" y="305" width="1" height="10" fill="#000"/>
<rect x="822" y="309" width="3" height="5" fill="#000"/>
<rect x="823" y="310" width="1" height="3" fill="#fff"/>
<rect x="827" y="302" width="1" height="11" fill="#000"/>
<rect x="826" y="309" width="3" height="1" fill="#000"/>
<rect x="831" y="299" width="1" height="14" fill="#000"/>
<rect x="830" y="302" width="3" height="9" fill="#000"/>
<rect x="831" y="303" width="1" height="7" fill="#fff"/>
<rect x="835" y="299" width="1" height="10" fill="#000"/>
<rect x="834" y="302" width="3" height="4" fill="#000"/>
<rect x="839" y="289" width="1" height="18" fill="#000"/>
<rect x="838" y="291" width="3" height="15" fill="#000"/>
<rect x="839" y="292" width="1" height="13" fill="#fff"/>
<rect x="843" y="281" width="1" height="15" fill="#000"/>
<rect x="842" y="283" width="3" height="8" fill="#000"/>
<rect x="843" y="284" width="1" height="6" fill="#fff"/>
<rect x="847" y="279" width="1" height="11" fill="#000"/>
<rect x="846" y="280" width="3" height="3" fill="#000"/>
<rect x="847" y="281" width="1" height="1" fill="#fff"/>
<rect x="851" y="267" width="1" height="15" fill="#000"/>
<rect x="850" y="268" width="3" height="12" fill="#000"/>
<rect x="851" y="269" width="1" height="10" fill="#fff"/>
<rect x="855" y="238" width="1" height="30" fill="#000"/>
<rect x="854" y="247" width="3" height="21" fill="#000"/>
<rect x="855" y="248" width="1" height="19" fill="#fff"/>
<rect x="859" y="241" width="1" height="17" fill="#000"/>
<rect x="858" y="243" width="3" height="4" fill="#000"/>
<rect x="859" y="244" width="1" height="2" fill="#fff"/>
<rect x="863" y="228" width="1" height="20" fill="#000"/>
<rect x="862" y="230" width="3" height="12" fill="#000"/>
<rect x="863" y="231" width="1" height="10" fill="#fff"/>
<rect x="867" y="223" width="1" height="23" fill="#000"/>
<rect x="866" y="230" width="3" height="11" fill="#000"/>
<rect x="871" y="231" width="1" height="22" fill="#000"/>
<rect x="870" y="238" width="3" height="3" fill="#000"/>
<rect x="871" y="239" width="1" height="1" fill="#fff"/>
<rect x="875" y="232" width="1" height="14" fill="#000"/>
<rect x="874" y="237" width="3" height="1" fill="#000"/>
<rect x="879" y="224" width="1" height="14" fill="#000"/>
<rect x="878" y="230" width="3" height="7" fill="#000"/>
<rect x="879" y="231" width="1" height="5" fill="#fff"/>
<rect x="883" y="217" width="1" height="13" fill="#000"/>
<rect x="882" y="226" width="3" height="4" fill="#000"/>
<rect x="883" y="227" width="1" height="2" fill="#fff"/>
<rect x="887" y="222" width="1" height="8" fill="#000"/>
<rect x="886" y="225" width="3" height="4" fill="#000"/>
<rect x="891" y="224" width="1" height="5" fill="#000"/>
<rect x="890" y="226" width="3" height="3" fill="#000"/>
<rect x="891" y="227" width="1" height="1" fill="#fff"/>
<rect x="895" y="222" width="1" height="6" fill="#000"/>
<rect x="894" y="224" width="3" height="3" fill="#000"/>
<rect x="895" y="225" width="1" height="1" fill="#fff"/>
<rect x="899" y="230" width="1" height="8" fill="#000"/>
<rect x="898" y="230" width="3" height="4" fill="#000"/>
<rect x="903" y="225" width="1" height="11" fill="#000"/>
<rect x="902" y="226" width="3" height="9" fill="#000"/>
<rect x="903" y="227" width="1" height="7" fill="#fff"/>
<rect x="907" y="223" width="1" height="10" fill="#000"/>
<rect x="906" y="226" width="3" height="4" fill="#000"/>
<rect x="911" y="226" width="1" height="16" fill="#000"/>
<rect x="910" y="229" width="3" height="12" fill="#000"/>
<rect x="915" y="235" width="1" height="7" fill="#000"/>
<rect x="914" y="237" width="3" height="4" fill="#000"/>
<rect x="915" y="238" width="1" height="2" fill="#fff"/>
<rect x="919" y="235" width="1" height="6" fill="#000"/>
<rect x="918" y="237" width="3" height="2" fill="#000"/>
<rect x="923" y="233" width="1" height="13" fill="#000"/>
<rect x="922" y="238" width="3" height="1" fill="#000"/>
<rect x="927" y="226" width="1" height="12" fill="#000"/>
<rect x="926" y="230" width="3" height="8" fill="#000"/>
<rect x="927" y="231" width="1" height="6" fill="#fff"/>
<rect x="931" y="218" width="1" height="18" fill="#000"/>
<rect x="930" y="222" width="3" height="9" fill="#000"/>
<rect x="931" y="223" width="1" height="7" fill="#fff"/>
<rect x="935" y="192" width="1" height="36" fill="#000"/>
<rect x="934" y="196" width="3" height="26" fill="#000"/>
<rect x="935" y="197" width="1" height="24" fill="#fff"/>
<rect x="939" y="190" width="1" height="13" fill="#000"/>
<rect x="938" y="196" width="3" height="1" fill="#000"/>
<rect x="943" y="175" width="1" height="25" fill="#000"/>
<rect x="942" y="183" width="3" height="13" fill="#000"/>
<rect x="943" y="184" width="1" height="11" fill="#fff"/>
<rect x="947" y="181" width="1" height="14" fill="#000"/>
<rect x="946" y="182" width="3" height="12" fill="#000"/>
<rect x="951" y="193" width="1" height="28" fill="#000"/>
<rect x="950" y="194" width="3" height="16" fill="#000"/>
<rect x="955" y="192" width="1" height="39" fill="#000"/>
<rect x="954" y="210" width="3" height="11" fill="#000"/>
<rect x="959" y="207" width="1" height="21" fill="#000"/>
<rect x="958" y="214" width="3" height="7" fill="#000"/>
<rect x="959" y="215" width="1" height="5" fill="#fff"/>
<rect x="963" y="190" width="1" height="25" fill="#000"/>
<rect x="962" y="192" width="3" height="22" fill="#000"/>
<rect x="963" y="193" width="1" height="20" fill="#fff"/>
<rect x="967" y="183" width="1" height="12" fill="#000"/>
<rect x="966" y="191" width="3" height="2" fill="#000"/>
<rect x="971" y="190" width="1" height="7" fill="#000"/>
<rect x="970" y="191" width="3" height="3" fill="#000"/>
<rect x="975" y="183" width="1" height="13" fill="#000"/>
<rect x="974" y="184" width="3" height="10" fill="#000"/>
<rect x="975" y="185" width="1" height="8" fill="#fff"/>
<rect x="979" y="180" width="1" height="8" fill="#000"/>
<rect x="978" y="183" width="3" height="1" fill="#000"/>
<rect x="983" y="182" width="1" height="7" fill="#000"/>
<rect x="982" y="183" width="3" height="5" fill="#000"/>
<rect x="987" y="178" width="1" height="10" fill="#000"/>
<rect x="986" y="182" width="3" height="5" fill="#000"/>
<rect x="987" y="183" width="1" height="3" fill="#fff"/>
<rect x="991" y="177" width="1" height="8" fill="#000"/>
<rect x="990" y="180" width="3" height="4" fill="#000"/>
<rect x="991" y="181" width="1" height="2" fill="#fff"/>
<rect x="995" y="180" width="1" height="9" fill="#000"/>
<rect x="994" y="180" width="3" height="6" fill="#000"/>
</g>
<g clip-path="url(#cs)">
<rect x="3" y="456" width="1" height="6" fill="#00008b"/>
<rect x="7" y="456" width="1" height="10" fill="#00008b"/>
<rect x="11" y="456" width="1" height="13" fill="#00008b"/>
<rect x="15" y="456" width="1" height="16" fill="#00008b"/>
<rect x="19" y="456" width="1" height="18" fill="#00008b"/>
<rect x="23" y="456" width="1" height="20" fill="#00008b"/>
<rect x="27" y="456" width="1" height="21" fill="#00008b"/>
<rect x="31" y="456" width="1" height="21" fill="#00008b"/>
<rect x="35" y="456" width="1" height="20" fill="#00008b"/>
<rect x="39" y="456" width="1" height="20" fill="#00008b"/>
<rect x="43" y="456" width="1" height="17" fill="#00008b"/>
<rect x="47" y="456" width="1" height="16" fill="#00008b"/>
<rect x="51" y="456" width="1" height="16" fill="#00008b"/>
<rect x="55" y="456" width="1" height="18" fill="#00008b"/>
<rect x="59" y="456" width="1" height="24" fill="#00008b"/>
<rect x="63" y="456" width="1" height="26" fill="#00008b"/>
<rect x="67" y="456" width="1" height="27" fill="#00008b"/>
<rect x="71" y="456" width="1" height="26" fill="#00008b"/>
<rect x="75" y="456" width="1" height="21" fill="#00008b"/>
<rect x="79" y="456" width="1" height="19" fill="#00008b"/>
<rect x="83" y="456" width="1" height="20" fill="#00008b"/>
<rect x="87" y="456" width="1" height="22" fill="#00008b"/>
<rect x="91" y="456" width="1" height="23" fill="#00008b"/>
<rect x="95" y="456" width="1" height="24" fill="#00008b"/>
<rect x="99" y="456" width="1" height="24" fill="#00008b"/>
<rect x="103" y="456" width="1" height="24" fill="#00008b"/>
<rect x="107" y="456" width="1" height="25" fill="#00008b"/>
<rect x="111" y="456" width="1" height="26" fill="#00008b"/>
<rect x="115" y="456" width="1" height="27" fill="#00008b"/>
<rect x="119" y="456" width="1" height="27" fill="#00008b"/>
<rect x="123" y="456" width="1" height="30" fill="#00008b"/>
<rect x="127" y="456" width="1" height="33" fill="#00008b"/>
<rect x="131" y="456" width="1" height="34" fill="#00008b"/>
<rect x="135" y="456" width="1" height="35" fill="#00008b"/>
<rect x="139" y="456" width="1" height="39" fill="#00008b"/>
<rect x="143" y="456" width="1" height="40" fill="#00008b"/>
<rect x="147" y="456" width="1" height="41" fill="#00008b"/>
<rect x="151" y="456" width="1" height="39" fill="#00008b"/>
<rect x="155" y="456" width="1" height="38" fill="#00008b"/>
<rect x="159" y="456" width="1" height="38" fill="#00008b"/>
<rect x="163" y="456" width="1" height="38" fill="#00008b"/>
<rect x="167" y="456" width="1" height="37" fill="#00008b"/>
<rect x="171" y="456" width="1" height="35" fill="#00008b"/>
<rect x="175" y="456" width="1" height="33" fill="#00008b"/>
<rect x="179" y="456" width="1" height="29" fill="#00008b"/>
<rect x="183" y="456" width="1" height="26" fill="#00008b"/>
<rect x="187" y="456" width="1" height="23" fill="#00008b"/>
<rect x="191" y="456" width="1" height="21" fill="#00008b"/>
<rect x="195" y="456" width="1" height="19" fill="#00008b"/>
<rect x="199" y="456" width="1" height="17" fill="#00008b"/>
<rect x="203" y="456" width="1" height="15" fill="#00008b"/>
<rect x="207" y="456" width="1" height="13" fill="#00008b"/>
<rect x="211" y="456" width="1" height="11" fill="#00008b"/>
<rect x="215" y="456" width="1" height="8" fill="#00008b"/>
<rect x="219" y="456" width="1" height="6" fill="#00008b"/>
<rect x="223" y="456" width="1" height="3" fill="#00008b"/>
<rect x="227" y="456" width="1" height="2" fill="#00008b"/>
<rect x="231" y="456" width="1" height="1" fill="#00008b"/>
<rect x="235" y="456" width="1" height="1" fill="#00008b"/>
<rect x="239" y="456" width="1" height="1" fill="#00008b"/>
<rect x="243" y="456" width="1" height="1" fill="#00008b"/>
<rect x="247" y="456" width="1" height="1" fill="#00008b"/>
<rect x="251" y="453" width="1" height="4" fill="#00008b"/>
<rect x="255" y="449" width="1" height="8" fill="#00008b"/>
<rect x="259" y="445" width="1" height="12" fill="#00008b"/>
<rect x="263" y="442" width="1" height="15" fill="#00008b"/>
<rect x="267" y="441" width="1" height="16" fill="#00008b"/>
<rect x="271" y="440" width="1" height="17" fill="#00008b"/>
<rect x="275" y="440" width="1" height="17" fill="#00008b"/>
<rect x="279" y="440" width="1" height="17" fill="#00008b"/>
<rect x="283" y="440" width="1" height="17" fill="#00008b"/>
<rect x="287" y="440" width="1" height="17" fill="#00008b"/>
<rect x="291" y="440" width="1" height="17" fill="#00008b"/>
<rect x="295" y="440" width="1" height="17" fill="#00008b"/>
<rect x="299" y="440" width="1" height="17" fill="#00008b"/>
<rect x="303" y="440" width="1" height="17" fill="#00008b"/>
<rect x="307" y="440" width="1" height="17" fill="#00008b"/>
<rect x="311" y="440" width="1" height="17" fill="#00008b"/>
<rect x="315" y="441" width="1" height="16" fill="#00008b"/>
<rect x="319" y="444" width="1" height="13" fill="#00008b"/>
<rect x="323" y="448" width="1" height="9" fill="#00008b"/>
<rect x="327" y="452" width="1" height="5" fill="#00008b"/>
<rect x="331" y="455" width="1" height="2" fill="#00008b"/>
<rect x="335" y="456" width="1" height="2" fill="#00008b"/>
<rect x="339" y="456" width="1" height="4" fill="#00008b"/>
<rect x="343" y="456" width="1" height="20" fill="#00008b"/>
<rect x="347" y="456" width="1" height="40" fill="#00008b"/>
<rect x="351" y="456" width="1" height="52" fill="#00008b"/>
<rect x="355" y="456" width="1" height="58" fill="#00008b"/>
<rect x="359" y="456" width="1" height="64" fill="#00008b"/>
<rect x="363" y="456" width="1" height="69" fill="#00008b"/>
<rect x="367" y="456" width="1" height="72" fill="#00008b"/>
<rect x="371" y="456" width="1" height="74" fill="#00008b"/>
<rect x="375" y="456" width="1" height="76" fill="#00008b"/>
<rect x="379" y="456" width="1" height="78" fill="#00008b"/>
<rect x="383" y="456" width="1" height="82" fill="#00008b"/>
<rect x="387" y="456" width="1" height="86" fill="#00008b"/>
<rect x="391" y="456" width="1" height="88" fill="#00008b"/>
<rect x="395" y="456" width="1" height="89" fill="#00008b"/>
<rect x="399" y="456" width="1" height="87" fill="#00008b"/>
<rect x="403" y="456" width="1" height="83" fill="#00008b"/>
<rect x="407" y="456" width="1" height="81" fill="#00008b"/>
<rect x="411" y="456" width="1" height="79" fill="#00008b"/>
<rect x="415" y="456" width="1" height="79" fill="#00008b"/>
<rect x="419" y="456" width="1" height="83" fill="#00008b"/>
<rect x="423" y="456" width="1" height="88" fill="#00008b"/>
<rect x="427" y="456" width="1" height="92" fill="#00008b"/>
<rect x="431" y="456" width="1" height="95" fill="#00008b"/>
<rect x="435" y="456" width="1" height="97" fill="#00008b"/>
<rect x="439" y="456" width="1" height="98" fill="#00008b"/>
<rect x="443" y="456" width="1" height="99" fill="#00008b"/>
<rect x="447" y="456" width="1" height="97" fill="#00008b"/>
<rect x="451" y="456" width="1" height="95" fill="#00008b"/>
<rect x="455" y="456" width="1" height="93" fill="#00008b"/>
<rect x="459" y="456" width="1" height="89" fill="#00008b"/>
<rect x="463" y="456" width="1" height="84" fill="#00008b"/>
<rect x="467" y="456" width="1" height="78" fill="#00008b"/>
<rect x="471" y="456" width="1" height="71" fill="#00008b"/>
<rect x="475" y="456" width="1" height="66" fill="#00008b"/>
<rect x="479" y="456" width="1" height="62" fill="#00008b"/>
<rect x="483" y="456" width="1" height="60" fill="#00008b"/>
<rect x="487" y="456" width="1" height="58" fill="#00008b"/>
<rect x="491" y="456" width="1" height="55" fill="#00008b"/>
<rect x="495" y="456" width="1" height="53" fill="#00008b"/>
<rect x="499" y="456" width="1" height="47" fill="#00008b"/>
<rect x="503" y="456" width="1" height="42" fill="#00008b"/>
<rect x="507" y="456" width="1" height="37" fill="#00008b"/>
<rect x="511" y="456" width="1" height="33" fill="#00008b"/>
<rect x="515" y="456" width="1" height="29" fill="#00008b"/>
<rect x="519" y="456" width="1" height="24" fill="#00008b"/>
<rect x="523" y="456" width="1" height="20" fill="#00008b"/>
<rect x="527" y="456" width="1" height="16" fill="#00008b"/>
<rect x="531" y="456" width="1" height="15" fill="#00008b"/>
<rect x="535" y="456" width="1" height="15" fill="#00008b"/>
<rect x="539" y="456" width="1" height="15" fill="#00008b"/>
<rect x="543" y="456" width="1" height="16" fill="#00008b"/>
<rect x="547" y="456" width="1" height="17" fill="#00008b"/>
<rect x="551" y="456" width="1" height="17" fill="#00008b"/>
<rect x="555" y="456" width="1" height="17" fill="#00008b"/>
<rect x="559" y="456" width="1" height="16" fill="#00008b"/>
<rect x="563" y="456" width="1" height="14" fill="#00008b"/>
<rect x="567" y="456" width="1" height="12" fill="#00008b"/>
<rect x="571" y="456" width="1" height="10" fill="#00008b"/>
<rect x="575" y="456" width="1" height="9" fill="#00008b"/>
<rect x="579" y="456" width="1" height="8" fill="#00008b"/>
<rect x="583" y="456" width="1" height="7" fill="#00008b"/>
<rect x="587" y="456" width="1" height="5" fill="#00008b"/>
<rect x="591" y="456" width="1" height="1" fill="#00008b"/>
<rect x="595" y="453" width="1" height="4" fill="#00008b"/>
<rect x="599" y="451" width="1" height="6" fill="#00008b"/>
<rect x="603" y="450" width="1" height="7" fill="#00008b"/>
<rect x="607" y="450" width="1" height="7" fill="#00008b"/>
<rect x="611" y="449" width="1" height="8" fill="#00008b"/>
<rect x="615" y="450" width="1" height="7" fill="#00008b"/>
<rect x="619" y="454" width="1" height="3" fill="#00008b"/>
<rect x="623" y="455" width="1" height="2" fill="#00008b"/>
<rect x="627" y="456" width="1" height="2" fill="#00008b"/>
<rect x="631" y="456" width="1" height="3" fill="#00008b"/>
<rect x="635" y="456" width="1" height="3" fill="#00008b"/>
<rect x="639" y="456" width="1" height="2" fill="#00008b"/>
<rect x="643" y="456" width="1" height="3" fill="#00008b"/>
<rect x="647" y="456" width="1" height="4" fill="#00008b"/>
<rect x="651" y="456" width="1" height="4" fill="#00008b"/>
<rect x="655" y="456" width="1" height="5" fill="#00008b"/>
<rect x="659" y="456" width="1" height="5" fill="#00008b"/>
<rect x="663" y="456" width="1" height="5" fill="#00008b"/>
<rect x="667" y="456" width="1" height="5" fill="#00008b"/>
<rect x="671" y="456" width="1" height="5" fill="#00008b"/>
<rect x="675" y="456" width="1" height="5" fill="#00008b"/>
<rect x="679" y="456" width="1" height="7" fill="#00008b"/>
<rect x="683" y="456" width="1" height="8" fill="#00008b"/>
<rect x="687" y="456" width="1" height="14" fill="#00008b"/>
<rect x="691" y="456" width="1" height="27" fill="#00008b"/>
<rect x="695" y="456" width="1" height="41" fill="#00008b"/>
<rect x="699" y="456" width="1" height="50" fill="#00008b"/>
<rect x="703" y="456" width="1" height="55" fill="#00008b"/>
<rect x="707" y="456" width="1" height="56" fill="#00008b"/>
<rect x="711" y="456" width="1" height="56" fill="#00008b"/>
<rect x="715" y="456" width="1" height="57" fill="#00008b"/>
<rect x="719" y="456" width="1" height="58" fill="#00008b"/>
<rect x="723" y="456" width="1" height="61" fill="#00008b"/>
<rect x="727" y="456" width="1" height="69" fill="#00008b"/>
<rect x="731" y="456" width="1" height="74" fill="#00008b"/>
<rect x="735" y="456" width="1" height="77" fill="#00008b"/>
<rect x="739" y="456" width="1" height="79" fill="#00008b"/>
<rect x="743" y="456" width="1" height="76" fill="#00008b"/>
<rect x="747" y="456" width="1" height="70" fill="#00008b"/>
<rect x="751" y="456" width="1" height="68" fill="#00008b"/>
<rect x="755" y="456" width="1" height="67" fill="#00008b"/>
<rect x="759" y="456" width="1" height="67" fill="#00008b"/>
<rect x="763" y="456" width="1" height="66" fill="#00008b"/>
<rect x="767" y="456" width="1" height="65" fill="#00008b"/>
<rect x="771" y="456" width="1" height="60" fill="#00008b"/>
<rect x="775" y="456" width="1" height="56" fill="#00008b"/>
<rect x="779" y="456" width="1" height="52" fill="#00008b"/>
<rect x="783" y="456" width="1" height="46" fill="#00008b"/>
<rect x="787" y="456" width="1" height="40" fill="#00008b"/>
<rect x="791" y="456" width="1" height="33" fill="#00008b"/>
<rect x="795" y="456" width="1" height="29" fill="#00008b"/>
<rect x="799" y="456" width="1" height="27" fill="#00008b"/>
<rect x="803" y="456" width="1" height="25" fill="#00008b"/>
<rect x="807" y="456" width="1" height="23" fill="#00008b"/>
<rect x="811" y="456" width="1" height="21" fill="#00008b"/>
<rect x="815" y="456" width="1" height="18" fill="#00008b"/>
<rect x="819" y="456" width="1" height="14" fill="#00008b"/>
<rect x="823" y="456" width="1" height="9" fill="#00008b"/>
<rect x="827" y="456" width="1" height="4" fill="#00008b"/>
<rect x="831" y="455" width="1" height="2" fill="#00008b"/>
<rect x="835" y="452" width="1" height="5" fill="#00008b"/>
<rect x="839" y="445" width="1" height="12" fill="#00008b"/>
<rect x="843" y="438" width="1" height="19" fill="#00008b"/>
<rect x="847" y="435" width="1" height="22" fill="#00008b"/>
<rect x="851" y="426" width="1" height="31" fill="#00008b"/>
<rect x="855" y="416" width="1" height="41" fill="#00008b"/>
<rect x="859" y="408" width="1" height="49" fill="#00008b"/>
<rect x="863" y="400" width="1" height="57" fill="#00008b"/>
<rect x="867" y="396" width="1" height="61" fill="#00008b"/>
<rect x="871" y="393" width="1" height="64" fill="#00008b"/>
<rect x="875" y="391" width="1" height="66" fill="#00008b"/>
<rect x="879" y="389" width="1" height="68" fill="#00008b"/>
<rect x="883" y="387" width="1" height="70" fill="#00008b"/>
<rect x="887" y="387" width="1" height="70" fill="#00008b"/>
<rect x="891" y="387" width="1" height="70" fill="#00008b"/>
<rect x="895" y="388" width="1" height="69" fill="#00008b"/>
<rect x="899" y="390" width="1" height="67" fill="#00008b"/>
<rect x="903" y="392" width="1" height="65" fill="#00008b"/>
<rect x="907" y="396" width="1" height="61" fill="#00008b"/>
<rect x="911" y="400" width="1" height="57" fill="#00008b"/>
<rect x="915" y="405" width="1" height="52" fill="#00008b"/>
<rect x="919" y="409" width="1" height="48" fill="#00008b"/>
<rect x="923" y="412" width="1" height="45" fill="#00008b"/>
<rect x="927" y="414" width="1" height="43" fill="#00008b"/>
<rect x="931" y="414" width="1" height="43" fill="#00008b"/>
<rect x="935" y="407" width="1" height="50" fill="#00008b"/>
<rect x="939" y="401" width="1" height="56" fill="#00008b"/>
<rect x="943" y="398" width="1" height="59" fill="#00008b"/>
<rect x="947" y="397" width="1" height="60" fill="#00008b"/>
<rect x="951" y="400" width="1" height="57" fill="#00008b"/>
<rect x="955" y="405" width="1" height="52" fill="#00008b"/>
<rect x="959" y="409" width="1" height="48" fill="#00008b"/>
<rect x="963" y="408" width="1" height="49" fill="#00008b"/>
<rect x="967" y="408" width="1" height="49" fill="#00008b"/>
<rect x="971" y="407" width="1" height="50" fill="#00008b"/>
<rect x="975" y="406" width="1" height="51" fill="#00008b"/>
<rect x="979" y="406" width="1" height="51" fill="#00008b"/>
<rect x="983" y="406" width="1" height="51" fill="#00008b"/>
<rect x="987" y="407" width="1" height="50" fill="#00008b"/>
<rect x="991" y="407" width="1" height="50" fill="#00008b"/>
<rect x="995" y="408" width="1" height="49" fill="#00008b"/>
<polyline points="3.0,460.5 10.0,468.0 20.0,474.0 27.5,476.8 40.0,475.5 45.0,471.8 50.0,471.0 55.0,473.0 60.0,480.5 65.0,482.5 71.0,481.8 75.0,476.8 80.0,474.2 86.0,476.8 95.0,479.2 105.0,480.0 112.5,481.8 120.0,483.0 127.5,488.0 135.0,490.0 140.0,495.0 147.5,496.8 155.0,493.0 165.0,493.0 172.5,490.5 180.0,484.2 187.5,478.0 195.0,474.2 205.0,469.2 215.0,464.2 222.5,459.2 230.0,456.8 240.0,456.8 247.5,456.0 252.5,453.0 257.5,446.8 263.0,443.0 270.5,440.5 278.0,440.0 288.0,441.0 298.0,440.5 315.5,441.0 320.5,445.5 328.0,453.0 334.0,456.8 339.0,458.0 343.0,473.0 346.8,493.0 350.5,505.5 358.0,518.0 365.5,526.8 373.0,530.5 379.0,532.5 385.5,540.0 393.0,544.2 398.0,544.2 404.0,538.0 410.5,535.0 414.0,533.5 419.0,538.0 425.5,545.5 433.0,551.8 443.0,554.2 449.0,551.8 455.5,548.0 463.0,540.5 470.5,528.0 478.0,518.0 488.0,513.0 495.5,508.0 503.0,498.0 510.5,489.2 518.0,481.8 526.0,472.0 536.0,470.0 543.5,471.8 549.8,473.0 558.5,471.8 568.5,466.8 576.0,464.2 586.0,461.8 593.5,455.0 601.0,450.5 608.5,450.0 614.8,449.8 619.8,454.2 626.0,456.8 633.5,459.2 641.0,457.5 648.5,459.2 656.0,461.0 666.0,460.5 676.0,461.0 686.0,464.2 691.0,480.5 696.0,498.0 702.2,510.5 711.0,511.8 718.5,513.0 723.5,516.8 727.2,524.2 733.5,531.8 738.5,534.8 743.5,531.8 748.5,524.2 756.0,522.5 766.0,521.8 773.5,513.0 781.0,505.5 788.5,494.2 790.0,490.0 795.0,484.2 802.5,480.5 815.0,474.2 822.5,465.5 827.5,459.2 835.0,453.0 840.0,444.2 843.8,438.0 846.2,438.0 851.2,427.0 857.5,412.0 863.8,399.5 870.0,394.5 877.5,390.0 883.8,387.8 895.0,387.8 900.0,390.8 906.2,394.5 912.5,402.0 920.0,409.5 926.2,414.5 931.2,414.5 936.2,405.8 942.5,398.2 947.5,397.5 952.5,400.8 958.8,410.0 965.0,408.2 971.0,407.8 975.0,406.9 979.0,405.9 983.0,406.9 987.0,407.6 991.0,407.6 995.5,408.9" fill="none" stroke="#c0c0c0" stroke-width="1" />
<polyline points="3.0,456.0 12.5,461.0 25.0,467.5 37.5,473.0 42.5,474.2 55.0,474.2 62.5,476.0 72.5,477.5 87.5,477.5 100.0,477.5 110.0,478.0 120.0,480.5 130.0,483.5 140.0,486.8 150.0,490.5 157.5,492.5 166.0,494.2 172.6,494.2 180.0,492.0 190.0,487.0 200.0,480.2 212.7,472.0 221.0,467.5 230.3,463.2 242.8,458.8 255.4,455.0 263.0,453.0 273.0,448.5 285.5,441.8 295.5,440.5 313.0,440.5 320.5,441.5 328.0,444.2 338.0,448.0 344.2,453.5 349.2,464.2 355.5,478.0 363.0,493.0 370.5,508.0 378.0,520.5 385.5,529.2 395.5,535.5 405.5,539.2 415.5,540.5 425.5,540.5 435.5,542.5 443.0,545.5 450.5,548.5 456.8,550.5 463.0,549.2 470.5,545.5 478.0,539.2 488.0,528.0 500.5,514.2 513.0,501.8 526.0,489.8 533.5,481.0 541.0,475.5 548.5,473.0 558.5,472.2 571.0,470.5 583.5,466.8 596.0,461.0 608.5,456.0 618.5,453.0 626.0,452.5 638.5,454.2 651.0,457.5 661.0,460.0 676.0,460.5 686.0,462.2 691.0,464.2 698.5,471.8 706.0,483.0 713.5,493.0 721.0,504.2 728.5,513.0 738.5,520.5 748.5,525.0 758.5,527.2 766.0,526.8 773.5,523.0 781.0,518.0 788.5,511.8 800.0,499.2 810.0,489.2 820.0,479.2 830.0,470.5 840.0,461.8 850.0,453.0 856.2,444.2 860.0,438.0 867.5,424.5 875.0,412.0 882.5,402.0 890.0,394.5 897.5,390.8 907.5,390.8 915.0,392.8 922.5,398.2 930.0,403.2 937.5,407.0 945.0,407.5 955.0,407.0 961.5,405.5 965.0,404.5 977.7,404.5 986.0,407.3 993.5,407.3" fill="none" stroke="#000" stroke-width="1" />
</g>
<rect x="2" y="2" width="1006" height="1" fill="#000"/>
<rect x="2" y="2" width="1" height="374" fill="#000"/>
<rect x="2" y="375" width="1006" height="1" fill="#000"/>
<rect x="2" y="377" width="1006" height="1" fill="#000"/>
<rect x="2" y="377" width="1" height="187" fill="#000"/>
<rect x="2" y="563" width="1006" height="1" fill="#000"/>
<rect x="1007" y="2" width="1" height="562" fill="#000"/>
<rect x="1008" y="9" width="2" height="1" fill="#000"/>
<text x="1013.4" y="13" font-size="9.5" fill="#000" stroke="#000" stroke-width="0.15" textLength="32.5" lengthAdjust="spacingAndGlyphs" xml:space="preserve">1891.40</text>
<rect x="1008" y="42" width="2" height="1" fill="#000"/>
<text x="1013.4" y="46" font-size="9.5" fill="#000" stroke="#000" stroke-width="0.15" textLength="32.5" lengthAdjust="spacingAndGlyphs" xml:space="preserve">1879.85</text>
<rect x="1008" y="75" width="2" height="1" fill="#000"/>
<text x="1013.4" y="79" font-size="9.5" fill="#000" stroke="#000" stroke-width="0.15" textLength="32.5" lengthAdjust="spacingAndGlyphs" xml:space="preserve">1867.95</text>
<rect x="1008" y="108" width="2" height="1" fill="#000"/>
<text x="1013.4" y="112" font-size="9.5" fill="#000" stroke="#000" stroke-width="0.15" textLength="32.5" lengthAdjust="spacingAndGlyphs" xml:space="preserve">1856.40</text>
<rect x="1008" y="141" width="2" height="1" fill="#000"/>
<text x="1013.4" y="145" font-size="9.5" fill="#000" stroke="#000" stroke-width="0.15" textLength="32.5" lengthAdjust="spacingAndGlyphs" xml:space="preserve">1844.50</text>
<rect x="1008" y="174" width="2" height="1" fill="#000"/>
<text x="1013.4" y="178" font-size="9.5" fill="#000" stroke="#000" stroke-width="0.15" textLength="32.5" lengthAdjust="spacingAndGlyphs" xml:space="preserve">1832.60</text>
<rect x="1008" y="207" width="2" height="1" fill="#000"/>
<text x="1013.4" y="211" font-size="9.5" fill="#000" stroke="#000" stroke-width="0.15" textLength="32.5" lengthAdjust="spacingAndGlyphs" xml:space="preserve">1821.05</text>
<rect x="1008" y="240" width="2" height="1" fill="#000"/>
<text x="1013.4" y="244" font-size="9.5" fill="#000" stroke="#000" stroke-width="0.15" textLength="32.5" lengthAdjust="spacingAndGlyphs" xml:space="preserve">1809.15</text>
<rect x="1008" y="273" width="2" height="1" fill="#000"/>
<text x="1013.4" y="277" font-size="9.5" fill="#000" stroke="#000" stroke-width="0.15" textLength="32.5" lengthAdjust="spacingAndGlyphs" xml:space="preserve">1797.25</text>
<rect x="1008" y="306" width="2" height="1" fill="#000"/>
<text x="1013.4" y="310" font-size="9.5" fill="#000" stroke="#000" stroke-width="0.15" textLength="32.5" lengthAdjust="spacingAndGlyphs" xml:space="preserve">1785.70</text>
<rect x="1008" y="339" width="2" height="1" fill="#000"/>
<text x="1013.4" y="343" font-size="9.5" fill="#000" stroke="#000" stroke-width="0.15" textLength="32.5" lengthAdjust="spacingAndGlyphs" xml:space="preserve">1773.80</text>
<rect x="1008" y="372" width="2" height="1" fill="#000"/>
<text x="1013.4" y="376" font-size="9.5" fill="#000" stroke="#000" stroke-width="0.15" textLength="32.5" lengthAdjust="spacingAndGlyphs" xml:space="preserve">1762.25</text>
<rect x="1008" y="379" width="1" height="1" fill="#000"/>
<text x="1011" y="388" font-size="9.5" fill="#000" stroke="#000" stroke-width="0.15" textLength="22.5" lengthAdjust="spacingAndGlyphs" xml:space="preserve">9.419</text>
<rect x="1008" y="456" width="1" height="1" fill="#000"/>
<text x="1011" y="460" font-size="9.5" fill="#000" stroke="#000" stroke-width="0.15" textLength="18" lengthAdjust="spacingAndGlyphs" xml:space="preserve">0.00</text>
<rect x="1008" y="562" width="1" height="1" fill="#000"/>
<text x="1011" y="560" font-size="9.5" fill="#000" stroke="#000" stroke-width="0.15" textLength="31" lengthAdjust="spacingAndGlyphs" xml:space="preserve">-13.043</text>
<rect x="1009" y="114" width="41" height="11" fill="#ff0000"/>
<text x="1013.4" y="123" font-size="9.5" fill="#fff" stroke="#fff" stroke-width="0.15" textLength="32.5" lengthAdjust="spacingAndGlyphs" xml:space="preserve">1851.89</text>
<rect x="1009" y="180" width="41" height="11" fill="#000"/>
<text x="1013.4" y="189" font-size="9.5" fill="#fff" stroke="#fff" stroke-width="0.15" textLength="32.5" lengthAdjust="spacingAndGlyphs" xml:space="preserve">1828.83</text>
<rect x="1009" y="209" width="41" height="11" fill="#ff0000"/>
<text x="1013.4" y="218" font-size="9.5" fill="#fff" stroke="#fff" stroke-width="0.15" textLength="32.5" lengthAdjust="spacingAndGlyphs" xml:space="preserve">1818.19</text>
<rect x="1009" y="226" width="41" height="11" fill="#ff0000"/>
<text x="1013.4" y="235" font-size="9.5" fill="#fff" stroke="#fff" stroke-width="0.15" textLength="32.5" lengthAdjust="spacingAndGlyphs" xml:space="preserve">1812.06</text>
<rect x="3" y="564" width="1" height="3" fill="#000"/>
<text x="2.5" y="576" font-size="9.5" fill="#000" stroke="#000" stroke-width="0.15" textLength="53.6" lengthAdjust="spacingAndGlyphs" xml:space="preserve">17 Nov 2020</text>
<rect x="67" y="564" width="1" height="3" fill="#000"/>
<text x="66.5" y="576" font-size="9.5" fill="#000" stroke="#000" stroke-width="0.15" textLength="56.1" lengthAdjust="spacingAndGlyphs" xml:space="preserve">18 Nov 15:00</text>
<rect x="131" y="564" width="1" height="3" fill="#000"/>
<text x="130.5" y="576" font-size="9.5" fill="#000" stroke="#000" stroke-width="0.15" textLength="56.1" lengthAdjust="spacingAndGlyphs" xml:space="preserve">19 Nov 08:00</text>
<rect x="195" y="564" width="1" height="3" fill="#000"/>
<text x="194.5" y="576" font-size="9.5" fill="#000" stroke="#000" stroke-width="0.15" textLength="56.1" lengthAdjust="spacingAndGlyphs" xml:space="preserve">20 Nov 01:00</text>
<rect x="259" y="564" width="1" height="3" fill="#000"/>
<text x="258.5" y="576" font-size="9.5" fill="#000" stroke="#000" stroke-width="0.15" textLength="56.1" lengthAdjust="spacingAndGlyphs" xml:space="preserve">20 Nov 17:00</text>
<rect x="323" y="564" width="1" height="3" fill="#000"/>
<text x="322.5" y="576" font-size="9.5" fill="#000" stroke="#000" stroke-width="0.15" textLength="56.1" lengthAdjust="spacingAndGlyphs" xml:space="preserve">23 Nov 11:00</text>
<rect x="387" y="564" width="1" height="3" fill="#000"/>
<text x="386.5" y="576" font-size="9.5" fill="#000" stroke="#000" stroke-width="0.15" textLength="56.1" lengthAdjust="spacingAndGlyphs" xml:space="preserve">24 Nov 04:00</text>
<rect x="451" y="564" width="1" height="3" fill="#000"/>
<text x="450.5" y="576" font-size="9.5" fill="#000" stroke="#000" stroke-width="0.15" textLength="56.1" lengthAdjust="spacingAndGlyphs" xml:space="preserve">24 Nov 20:00</text>
<rect x="515" y="564" width="1" height="3" fill="#000"/>
<text x="514.5" y="576" font-size="9.5" fill="#000" stroke="#000" stroke-width="0.15" textLength="56.1" lengthAdjust="spacingAndGlyphs" xml:space="preserve">25 Nov 13:00</text>
<rect x="579" y="564" width="1" height="3" fill="#000"/>
<text x="578.5" y="576" font-size="9.5" fill="#000" stroke="#000" stroke-width="0.15" textLength="56.1" lengthAdjust="spacingAndGlyphs" xml:space="preserve">26 Nov 06:00</text>
<rect x="643" y="564" width="1" height="3" fill="#000"/>
<text x="642.5" y="576" font-size="9.5" fill="#000" stroke="#000" stroke-width="0.15" textLength="56.1" lengthAdjust="spacingAndGlyphs" xml:space="preserve">27 Nov 03:00</text>
<rect x="707" y="564" width="1" height="3" fill="#000"/>
<text x="706.5" y="576" font-size="9.5" fill="#000" stroke="#000" stroke-width="0.15" textLength="56.1" lengthAdjust="spacingAndGlyphs" xml:space="preserve">27 Nov 19:00</text>
<rect x="771" y="564" width="1" height="3" fill="#000"/>
<text x="770.5" y="576" font-size="9.5" fill="#000" stroke="#000" stroke-width="0.15" textLength="56.1" lengthAdjust="spacingAndGlyphs" xml:space="preserve">30 Nov 15:00</text>
<rect x="835" y="564" width="1" height="3" fill="#000"/>
<text x="834.5" y="576" font-size="9.5" fill="#000" stroke="#000" stroke-width="0.15" textLength="50.1" lengthAdjust="spacingAndGlyphs" xml:space="preserve">1 Dec 08:00</text>
<rect x="899" y="564" width="1" height="3" fill="#000"/>
<text x="898.5" y="576" font-size="9.5" fill="#000" stroke="#000" stroke-width="0.15" textLength="50.1" lengthAdjust="spacingAndGlyphs" xml:space="preserve">2 Dec 01:00</text>
<rect x="963" y="564" width="1" height="3" fill="#000"/>
<text x="962.5" y="576" font-size="9.5" fill="#000" stroke="#000" stroke-width="0.15" textLength="50.1" lengthAdjust="spacingAndGlyphs" xml:space="preserve">2 Dec 17:00</text>
<text x="7" y="14" font-size="9.5" fill="#000" stroke="#000" stroke-width="0.15" textLength="53" lengthAdjust="spacingAndGlyphs" xml:space="preserve">XAUUSD,H1</text>
<text x="67.5" y="14" font-size="9.5" fill="#000" stroke="#000" stroke-width="0.15" textLength="32" lengthAdjust="spacingAndGlyphs" xml:space="preserve">1830.71</text>
<text x="103.5" y="14" font-size="9.5" fill="#000" stroke="#000" stroke-width="0.15" textLength="32" lengthAdjust="spacingAndGlyphs" xml:space="preserve">1830.73</text>
<text x="139.5" y="14" font-size="9.5" fill="#000" stroke="#000" stroke-width="0.15" textLength="32" lengthAdjust="spacingAndGlyphs" xml:space="preserve">1827.70</text>
<text x="175.5" y="14" font-size="9.5" fill="#000" stroke="#000" stroke-width="0.15" textLength="32" lengthAdjust="spacingAndGlyphs" xml:space="preserve">1828.83</text>
<text x="9.5" y="72" font-size="9.5" fill="#000" stroke="#000" stroke-width="0.15" textLength="86.5" lengthAdjust="spacingAndGlyphs" xml:space="preserve">#41528394 buy 1.00</text>
<text x="7.5" y="390" font-size="9.5" fill="#000" stroke="#000" stroke-width="0.15" textLength="185.5" lengthAdjust="spacingAndGlyphs" xml:space="preserve">MACD(12,26,9) 5.814 5.986  -&gt;MA(1) 5.814</text>
</svg></body></html>
